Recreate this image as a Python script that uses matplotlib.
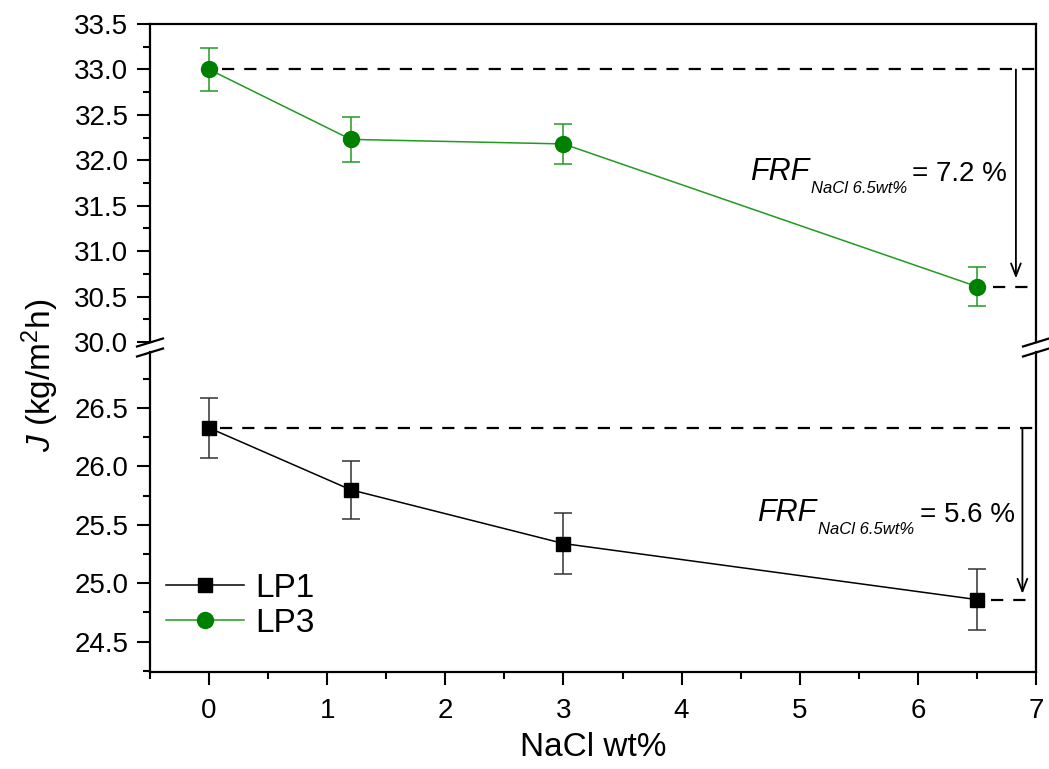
import matplotlib
matplotlib.use("Agg")
import matplotlib.pyplot as plt
from matplotlib.ticker import MultipleLocator, FormatStrFormatter
from matplotlib.lines import Line2D

plt.rcParams['font.family'] = ['Liberation Sans', 'DejaVu Sans']
plt.rcParams['mathtext.fontset'] = 'custom'
plt.rcParams['mathtext.rm'] = 'Liberation Sans'
plt.rcParams['mathtext.it'] = 'Liberation Sans:italic'

# ---- data ----
nacl = [0, 1.2, 3, 6.5]
lp1 = [26.33, 25.80, 25.34, 24.86]
lp1_err = [0.26, 0.25, 0.26, 0.26]
lp3 = [33.00, 32.23, 32.18, 30.61]
lp3_err = [0.24, 0.25, 0.22, 0.21]
x_ticks = [0, 1, 2, 3, 4, 5, 6, 7]
frf_lp1 = "5.6 %"
frf_lp3 = "7.2 %"

W, H = 1049, 769
fig = plt.figure(figsize=(W / 100, H / 100), dpi=100)

L, R = 150 / W, 1036 / W
top_ax = fig.add_axes([L, 1 - 342 / H, R - L, (342 - 24) / H])
bot_ax = fig.add_axes([L, 1 - 672 / H, R - L, (672 - 352) / H])

top_ax.set_ylim(30.0, 33.5)
bot_ax.set_ylim(24.24, 26.98)
for ax in (top_ax, bot_ax):
    ax.set_xlim(-0.5, 7)
    for s in ax.spines.values():
        s.set_linewidth(1.6)
    ax.yaxis.set_major_locator(MultipleLocator(0.5))
    ax.yaxis.set_minor_locator(MultipleLocator(0.25))
    ax.tick_params(axis='y', which='major', direction='out', length=9.5, width=1.5,
                   labelsize=20, pad=6, right=False)
    ax.tick_params(axis='y', which='minor', direction='out', length=5, width=1.5, right=False)
    ax.yaxis.set_major_formatter(FormatStrFormatter('%.1f'))

top_ax.spines['bottom'].set_visible(False)
bot_ax.spines['top'].set_visible(False)
top_ax.tick_params(axis='x', which='both', bottom=False, top=False, labelbottom=False)
bot_ax.set_xticks(x_ticks)
bot_ax.xaxis.set_minor_locator(MultipleLocator(0.5))
bot_ax.tick_params(axis='x', which='major', direction='out', length=9.5, width=1.5,
                   labelsize=20, pad=9, top=False)
bot_ax.tick_params(axis='x', which='minor', direction='out', length=5, width=1.5, top=False)

green_line = '#209a20'
green_mk = '#008000'

# LP3 (top)
top_ax.errorbar(nacl, lp3, yerr=lp3_err, fmt='none', ecolor=green_line, elinewidth=1.1,
                capsize=6.5, capthick=1.1, zorder=2)
h3, = top_ax.plot(nacl, lp3, '-', color=green_line, lw=1.1, marker='o', ms=11.5,
                  mfc=green_mk, mec=green_mk, zorder=3, label='LP3')
# LP1 (bottom)
bot_ax.errorbar(nacl, lp1, yerr=lp1_err, fmt='none', ecolor='#333333', elinewidth=1.1,
                capsize=6.5, capthick=1.1, zorder=2)
h1, = bot_ax.plot(nacl, lp1, '-', color='black', lw=1.1, marker='s', ms=10.5,
                  mfc='black', mec='black', zorder=3, label='LP1')

# reference dashed lines
dash = dict(color='black', lw=1.6, dashes=(5.5, 4.5), clip_on=False, zorder=1)
top_ax.plot([0.11, 7.0], [lp3[0], lp3[0]], **dash)
top_ax.plot([6.64, 6.94], [lp3[-1], lp3[-1]], **dash)
bot_ax.plot([0.09, 7.0], [lp1[0], lp1[0]], **dash)
bot_ax.plot([6.62, 6.93], [lp1[-1], lp1[-1]], **dash)

# arrows
arr = dict(arrowstyle='->,head_length=0.9,head_width=0.35', color='black', lw=1.3,
           shrinkA=0, shrinkB=0)
top_ax.annotate('', xy=(6.83, 30.70), xytext=(6.83, lp3[0]), arrowprops=arr)
bot_ax.annotate('', xy=(6.885, 24.91), xytext=(6.885, lp1[0]), arrowprops=arr)

# FRF annotations
def frf(ax, x, y, val):
    t1 = ax.text(x, y, 'FRF', fontsize=22, style='italic', va='baseline', ha='left')
    t2 = ax.annotate('NaCl 6.5wt%', xy=(1, 0), xycoords=t1, xytext=(1, -6),
                     textcoords='offset points', fontsize=12, style='italic',
                     va='bottom', ha='left')
    ax.annotate('= ' + val, xy=(1, 0), xycoords=t2, xytext=(4, 6),
                textcoords='offset points', fontsize=20, va='bottom', ha='left')

frf(top_ax, 4.58, 31.78, frf_lp3)
frf(bot_ax, 4.64, 25.53, frf_lp1)

# axis break marks
def brk(xc):
    for yc in (342.5, 352.5):
        fig.add_artist(Line2D([(xc - 13) / W, (xc + 13) / W],
                              [1 - (yc + 4) / H, 1 - (yc - 4) / H],
                              color='black', lw=1.6))
brk(150)
brk(1036)

# labels
bot_ax.set_xlabel('NaCl wt%', fontsize=24, labelpad=6)
fig.text(40 / W, 1 - 375 / H, r'$\mathit{J}$ (kg/m$^2$h)', rotation=90,
         fontsize=24, ha='center', va='center')

# legend
bot_ax.legend(handles=[h1, h3], loc='upper left', bbox_to_anchor=(0.018, 0.31),
              frameon=False, fontsize=24, handlelength=2.35, handletextpad=0.33,
              labelspacing=0.12, borderpad=0, borderaxespad=0, numpoints=1)

fig.savefig('out.png', dpi=100)
